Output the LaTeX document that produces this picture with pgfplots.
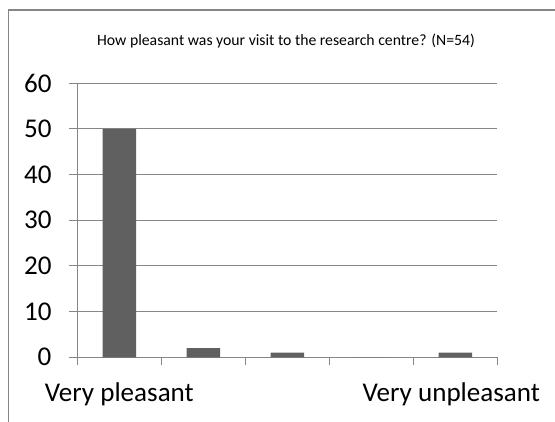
\documentclass[border=0pt]{standalone}
\usepackage{pgfplots}
\pgfplotsset{compat=1.18}
\usepackage{fontspec}
\setmainfont{Carlito}
\definecolor{gridc}{HTML}{868686}
\definecolor{barc}{HTML}{606060}
\begin{document}
\begin{tikzpicture}
\useasboundingbox (0,0) rectangle (416.25pt,315.75pt);
\draw[gridc, line width=1pt] (6.2pt,-2pt) -- (6.2pt,308.25pt) -- (420pt,308.25pt);
\node[anchor=base, font=\fontsize{11.8}{13}\selectfont, inner sep=0pt] at (214.5pt,281.5pt) {How pleasant was your visit to the research centre? (N=54)};
\begin{axis}[
  at={(58pt,47.8pt)}, anchor=south west,
  scale only axis, width=315pt, height=205.5pt,
  xmin=0.5, xmax=5.5, ymin=0, ymax=60,
  ytick={0,10,...,60},
  xtick={0.5,1.5,...,5.5}, xticklabels={},
  extra x ticks={1,4.952},
  extra x tick labels={Very pleasant,Very unpleasant},
  extra x tick style={major tick length=0pt, grid=none},
  axis x line*=bottom, axis y line*=left,
  ymajorgrids, grid style={gridc, line width=0.75pt},
  axis line style={gridc, line width=0.75pt},
  tick style={gridc, line width=0.75pt},
  tick align=outside, major tick length=6pt,
  ticklabel style={font=\fontsize{20.3}{22}\selectfont, text=black},
  yticklabel style={anchor=east, inner sep=0pt, xshift=-13.2pt},
  xticklabel style={anchor=base, inner sep=0pt, yshift=-33.3pt},
  /pgf/number format/assume math mode=true,
]
\addplot[ybar, bar width=25pt, fill=barc, draw=none] coordinates {(1,50) (2,2) (3,1) (4,0) (5,1)};
\end{axis}
\end{tikzpicture}
\end{document}
